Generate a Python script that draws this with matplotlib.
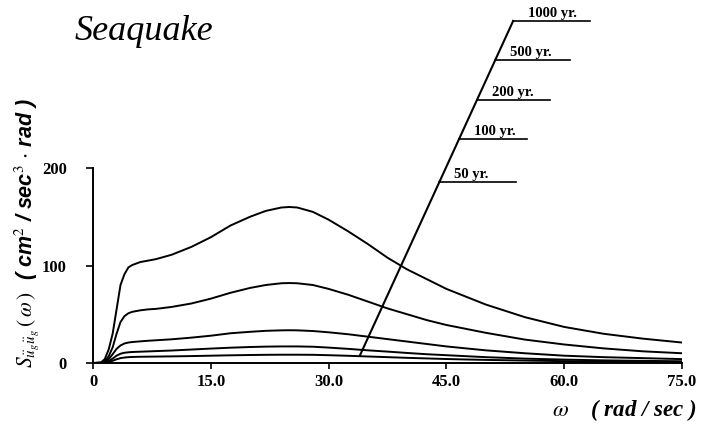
import matplotlib
matplotlib.use("Agg")
import matplotlib.pyplot as plt

# ---------------- data ----------------
omega = [0, 1, 1.5, 2, 2.5, 3, 3.5, 4, 4.5, 5, 6, 7, 8, 10, 12.5, 15, 17.5, 20, 22, 24,
         25, 26, 28, 30, 32.5, 35, 37.5, 40, 42.5, 45, 47.5, 50, 55, 60, 65, 70, 75]

s_1000 = [0, 0.5, 4, 14, 30, 55, 80, 91, 98, 100.5, 103.5, 105, 106.5, 111, 119, 129, 141, 150, 156, 159.5,
          160, 159.5, 155, 147, 135, 122, 108, 96, 86, 76, 68, 60, 47, 37, 30, 25, 21]
s_500 = [0, 0.3, 2, 7, 16, 30, 42, 48, 51, 52.5, 54, 55, 55.5, 57.5, 61, 66, 72, 77, 80, 81.8,
         82, 81.8, 80, 76, 70, 63, 56, 50, 44, 39, 35, 31, 24, 19, 15, 12, 10]
s_200 = [0, 0.2, 1, 4, 9, 14.5, 18, 20, 21, 21.5, 22.2, 22.8, 23.3, 24.3, 26, 28, 30.5, 32, 33, 33.5,
         33.6, 33.5, 32.8, 31.5, 29.5, 27, 24.5, 22, 19.5, 17, 15, 13, 10, 7.5, 6, 5, 4]
s_100 = [0, 0.1, 0.6, 2, 4.5, 7.5, 9.5, 10.5, 11, 11.3, 11.6, 11.9, 12.2, 12.8, 13.8, 14.8, 15.7, 16.4, 16.8, 17,
         17, 17, 16.7, 15.8, 14.5, 13, 11.7, 10.3, 9, 8, 7, 6, 4.5, 3.5, 2.7, 2.2, 1.8]
s_50 = [0, 0.05, 0.3, 1, 2.3, 3.8, 5, 5.6, 6, 6.2, 6.4, 6.5, 6.6, 6.8, 7.1, 7.5, 7.9, 8.2, 8.4, 8.5,
        8.5, 8.5, 8.4, 8.0, 7.4, 6.7, 6.0, 5.3, 4.7, 4.1, 3.6, 3.2, 2.5, 1.9, 1.5, 1.2, 1.0]

series = [s_50, s_100, s_200, s_500, s_1000]
return_labels = ["50 yr.", "100 yr.", "200 yr.", "500 yr.", "1000 yr."]
# leader line levels (data units) and label line end positions
label_levels = [185.6, 229.7, 269.7, 310.8, 350.8]
label_ends = [53.9, 55.3, 58.2, 60.7, 63.3]
leader_start = (34.0, 8.0)

x_ticks = [0, 15, 30, 45, 60, 75]
x_ticklabels = ["0", "15.0", "30.0", "45.0", "60.0", "75.0"]
y_ticks = [0, 100, 200]
y_ticklabels = ["0", "100", "200"]

# ---------------- figure ----------------
plt.rcParams["mathtext.fontset"] = "stix"
fig = plt.figure(figsize=(7.02, 4.30), dpi=100)
ax = fig.add_axes([0.1325, 0.1558, 0.839, 0.4535])

for s in series:
    ax.plot(omega, s, color="black", lw=1.4, solid_joinstyle="round",
            solid_capstyle="round")

ax.set_xlim(0, 75)
ax.set_ylim(0, 200)
ax.spines["top"].set_visible(False)
ax.spines["right"].set_visible(False)
ax.spines["left"].set_bounds(0, 200)
ax.spines["bottom"].set_bounds(0, 75)
for sp in ("left", "bottom"):
    ax.spines[sp].set_linewidth(1.4)

ax.set_xticks(x_ticks)
ax.set_xticklabels(x_ticklabels)
ax.set_yticks(y_ticks)
ax.set_yticklabels(y_ticklabels)
ax.tick_params(axis="x", direction="out", length=4, width=1.2, pad=4)
ax.tick_params(axis="y", direction="out", length=5, width=1.2, pad=14)
for lab in ax.get_xticklabels() + ax.get_yticklabels():
    lab.set_fontfamily("Liberation Serif")
    lab.set_fontweight("bold")
    lab.set_fontsize(12)

# leader line and return period labels
top_x = label_ends[-1] - 9.8
ax.plot([leader_start[0], top_x], [leader_start[1], label_levels[-1]],
        color="black", lw=1.5, clip_on=False)
for lvl, xend, txt in zip(label_levels, label_ends, return_labels):
    frac = (lvl - leader_start[1]) / (label_levels[-1] - leader_start[1])
    xs = leader_start[0] + frac * (top_x - leader_start[0])
    ax.plot([xs, xend], [lvl, lvl], color="black", lw=1.2, clip_on=False)
    ax.text(xs + 1.9, lvl + 1.5, txt, fontsize=10.5, fontfamily="Liberation Serif",
            fontweight="bold", ha="left", va="bottom", clip_on=False)

# title
fig.text(75 / 702, 1 - 40 / 430, "Seaquake", fontsize=26, fontstyle="italic",
         fontfamily="Liberation Serif", ha="left", va="baseline")

# y label
fig.text(27 / 702, 1 - 233 / 430,
         r"$S_{\ddot{u}_g\ddot{u}_g}\,(\,\omega\,)$  ( cm$^2$ / sec$^3$ $\cdot$ rad )",
         rotation=90, fontsize=15.5, fontweight="bold", fontstyle="italic",
         fontfamily="Liberation Sans", ha="center", va="center")

# x label
fig.text(697 / 702, 1 - 410 / 430, r"$\omega$    ( rad / sec )", fontsize=16.5,
         fontweight="bold", fontstyle="italic", fontfamily="Liberation Serif",
         ha="right", va="center")

fig.savefig("out.png", dpi=100)
